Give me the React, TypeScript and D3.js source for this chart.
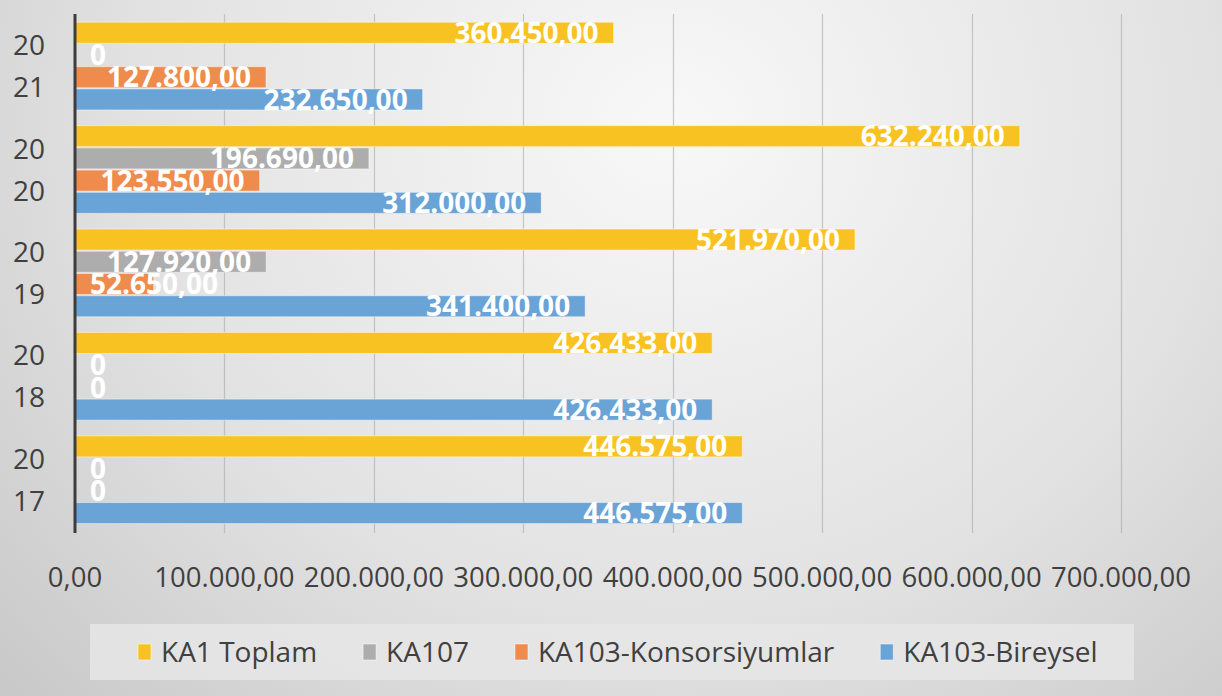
import React, { useEffect, useRef } from "react";
import * as d3 from "d3";

const categories = ["2017", "2018", "2019", "2020", "2021"];
const seriesNames = ["KA1 Toplam", "KA107", "KA103-Konsorsiyumlar", "KA103-Bireysel"];
const ka1Toplam = [446575, 426433, 521970, 632240, 360450];
const ka107 = [0, 0, 127920, 196690, 0];
const ka103Konsorsiyumlar = [0, 0, 52650, 123550, 127800];
const ka103Bireysel = [446575, 426433, 341400, 312000, 232650];
const xTicks = [0, 100000, 200000, 300000, 400000, 500000, 600000, 700000];
const colors = ["#f9c223", "#adadad", "#ee8b4d", "#6aa3d6"];

const W = 1222;
const H = 696;

const App = () => {
    const ref = useRef<SVGSVGElement>(null);

    useEffect(() => {
        if (!ref.current) return;
        const svg = d3.select(ref.current);
        svg.selectAll("*").remove();

        const seriesValues = [ka1Toplam, ka107, ka103Konsorsiyumlar, ka103Bireysel];
        const locale = d3.formatLocale({ decimal: ",", thousands: ".", grouping: [3], currency: ["", ""] });
        const fmt = locale.format(",.2f");
        const label = (v: number) => (v === 0 ? "0" : fmt(v));
        const font = "'Open Sans', sans-serif";

        // background gradient
        const defs = svg.append("defs");
        const grad = defs.append("radialGradient")
            .attr("id", "bg")
            .attr("cx", "0.55").attr("cy", "0.18").attr("r", "0.8")
            .attr("gradientTransform", "translate(0.55,0.18) scale(1,1.6) translate(-0.55,-0.18)");
        grad.append("stop").attr("offset", "0").attr("stop-color", "#f8f8f8");
        grad.append("stop").attr("offset", "0.55").attr("stop-color", "#e2e2e2");
        grad.append("stop").attr("offset", "1").attr("stop-color", "#c4c4c4");

        svg.append("rect").attr("width", W).attr("height", H).attr("fill", "url(#bg)");

        const x = d3.scaleLinear().domain([0, 700000]).range([75, 1121]);
        const y = d3.scaleBand<string>()
            .domain(categories.slice().reverse())
            .range([14.5, 531.5])
            .paddingInner(0.14)
            .paddingOuter(0.07);
        const yInner = d3.scaleBand<string>().domain(seriesNames).range([0, y.bandwidth()]);

        // gridlines
        svg.append("g")
            .selectAll("line")
            .data(xTicks.slice(1))
            .join("line")
            .attr("x1", d => Math.round(x(d)) + 0.5)
            .attr("x2", d => Math.round(x(d)) + 0.5)
            .attr("y1", 14)
            .attr("y2", 533)
            .attr("stroke", "#a8a8a8")
            .attr("stroke-opacity", 0.6)
            .attr("stroke-width", 1.2);

        // bars
        const rows = categories.flatMap((c, i) =>
            seriesNames.map((s, j) => ({ cat: c, series: s, idx: j, value: seriesValues[j][i] }))
        );

        svg.append("g")
            .selectAll("rect")
            .data(rows.filter(r => r.value > 0))
            .join("rect")
            .attr("x", x(0))
            .attr("y", d => (y(d.cat) as number) + (yInner(d.series) as number) + 0.5)
            .attr("width", d => x(d.value) - x(0))
            .attr("height", yInner.bandwidth() - 1.2)
            .attr("fill", d => colors[d.idx])
            .attr("stroke", "#ffffff")
            .attr("stroke-opacity", 0.45)
            .attr("stroke-width", 1);

        // axis line
        svg.append("line")
            .attr("x1", 75).attr("x2", 75)
            .attr("y1", 14).attr("y2", 533)
            .attr("stroke", "#3d3d3d")
            .attr("stroke-width", 3);

        // data labels
        const labels = svg.append("g")
            .selectAll("text")
            .data(rows)
            .join("text")
            .attr("font-family", font)
            .attr("font-weight", 700)
            .attr("font-size", 28)
            .attr("fill", "#ffffff")
            .attr("text-anchor", "end")
            .attr("y", d => (y(d.cat) as number) + (yInner(d.series) as number) + yInner.bandwidth() / 2 + 10)
            .text(d => label(d.value));

        labels.each(function (d) {
            const el = this as SVGTextElement;
            const w = el.getComputedTextLength();
            el.setAttribute("x", String(Math.max(x(d.value) - 15, 90 + w)));
        });

        // y tick labels
        const yTicks = svg.append("g")
            .selectAll("text")
            .data(categories)
            .join("text")
            .attr("font-family", font)
            .attr("font-size", 28)
            .attr("fill", "#404040")
            .attr("text-anchor", "middle");
        yTicks.append("tspan")
            .attr("x", 29)
            .attr("y", d => (y(d) as number) + y.bandwidth() / 2 - 11)
            .text(d => d.slice(0, 2));
        yTicks.append("tspan")
            .attr("x", 29)
            .attr("y", d => (y(d) as number) + y.bandwidth() / 2 + 31)
            .text(d => d.slice(2));

        // x tick labels
        svg.append("g")
            .selectAll("text")
            .data(xTicks)
            .join("text")
            .attr("font-family", font)
            .attr("font-size", 27.5)
            .attr("fill", "#404040")
            .attr("text-anchor", "middle")
            .attr("x", d => x(d))
            .attr("y", 587)
            .text(d => fmt(d));

        // legend
        svg.append("rect")
            .attr("x", 90).attr("y", 624)
            .attr("width", 1044).attr("height", 56)
            .attr("fill", "#e6e6e6")
            .attr("fill-opacity", 0.85);

        let lx = 138;
        seriesNames.forEach((s, j) => {
            svg.append("rect")
                .attr("x", lx).attr("y", 644)
                .attr("width", 13).attr("height", 16)
                .attr("fill", colors[j])
                .attr("stroke", "#ffffff").attr("stroke-opacity", 0.5);
            const t = svg.append("text")
                .attr("font-family", font)
                .attr("font-size", 28)
                .attr("fill", "#404040")
                .attr("x", lx + 23)
                .attr("y", 662)
                .text(s);
            const w = (t.node() as SVGTextElement).getComputedTextLength();
            lx += 23 + w + 46;
        });
    }, []);

    return (
        <svg ref={ref} width={W} height={H} style={{ position: "absolute", left: 0, top: 0 }}></svg>
    );
};

export default App;
